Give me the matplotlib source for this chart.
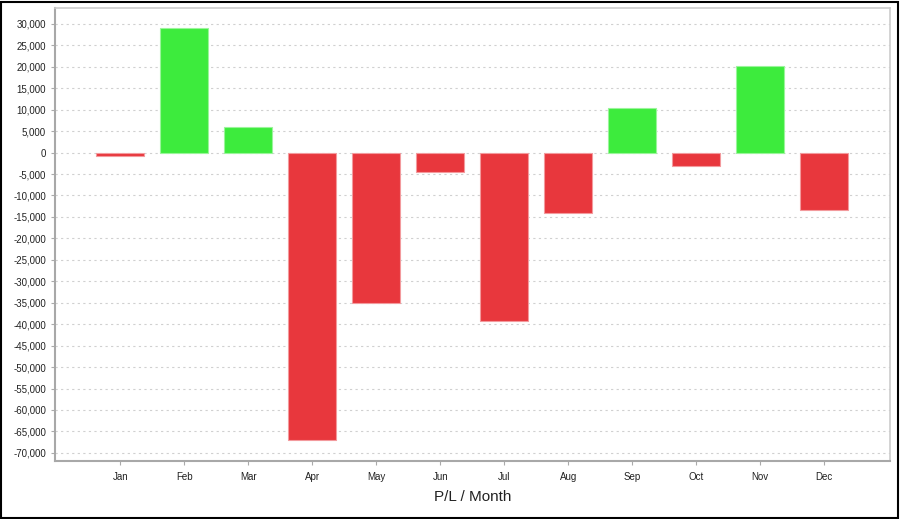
import numpy as np
import matplotlib
matplotlib.use('Agg')
from matplotlib import pyplot as plt
from matplotlib.ticker import MultipleLocator, FuncFormatter
from matplotlib.patches import Rectangle

months = ['Jan', 'Feb', 'Mar', 'Apr', 'May', 'Jun',
          'Jul', 'Aug', 'Sep', 'Oct', 'Nov', 'Dec']
pnl = [-900, 29000, 6000, -67000, -35100, -4500,
       -39200, -14200, 10300, -3100, 20200, -13300]

GREEN = '#3deb3d'
RED = '#e8373d'

plt.rcParams['font.family'] = ['Liberation Sans', 'DejaVu Sans']

fig = plt.figure(figsize=(9, 5.19), dpi=100)
ax = fig.add_axes([55 / 900, 1 - 461 / 519, 835 / 900, 453 / 519])

x = np.arange(len(months))
colors = [GREEN if v >= 0 else RED for v in pnl]
edges = ['#9af59a' if v >= 0 else '#f39a9d' for v in pnl]
ax.bar(x, pnl, width=0.75, color=colors, edgecolor=edges, linewidth=0.8, zorder=3)

ax.set_xlim(-1.02, 12.03)
ax.set_ylim(-71900, 33700)
ax.set_xticks(x)
ax.set_xticklabels(months)
ax.yaxis.set_major_locator(MultipleLocator(5000))
ax.yaxis.set_major_formatter(FuncFormatter(lambda v, p: f'{int(v):,}'))
ax.tick_params(axis='both', labelsize=7, length=3, color='#aaaaaa', colors='#222222')
ax.tick_params(axis='x', pad=5)

ax.grid(axis='y', color='#d0d0d0', linestyle=(0, (2, 3)), linewidth=0.8, zorder=0)
for side in ['left', 'bottom']:
    ax.spines[side].set_color('#a8a8a8')
    ax.spines[side].set_linewidth(1.5)
for side in ['top', 'right']:
    ax.spines[side].set_color('#cccccc')
    ax.spines[side].set_linewidth(1.2)

ax.set_xlabel('P/L / Month', fontsize=11, color='#222222', labelpad=6)

fig.patches.append(Rectangle((0.001, 0.002), 0.997, 0.995, transform=fig.transFigure,
                             fill=False, edgecolor='black', linewidth=1.5))

plt.savefig('out.png', dpi=100)
